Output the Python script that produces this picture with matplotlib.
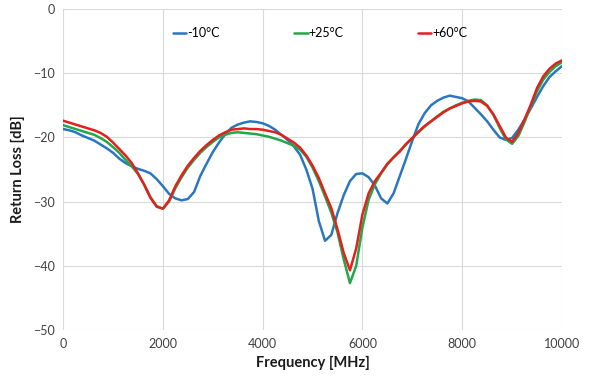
import matplotlib
matplotlib.use("Agg")
import matplotlib.pyplot as plt

freq = list(range(0, 10001, 125))

rl_m10 = [-18.7, -18.9, -19.2, -19.7, -20.1, -20.5, -21.1, -21.7, -22.4, -23.3,
          -24.0, -24.5, -24.9, -25.2, -25.6, -26.5, -27.6, -28.8, -29.5, -29.8,
          -29.6, -28.5, -26.0, -24.1, -22.3, -20.8, -19.5, -18.5, -18.0, -17.7,
          -17.5, -17.6, -17.8, -18.2, -18.8, -19.6, -20.4, -21.4, -22.7, -25.0,
          -28.0, -33.0, -36.1, -35.2, -31.8, -29.0, -26.8, -25.7, -25.6, -26.2,
          -27.5, -29.5, -30.3, -28.7, -26.0, -23.3, -20.5, -17.9, -16.2, -15.0,
          -14.3, -13.8, -13.5, -13.7, -13.9, -14.4, -15.4, -16.4, -17.5, -18.8,
          -20.0, -20.4, -20.1, -18.8, -17.2, -15.5, -13.7, -12.0, -10.6, -9.7,
          -8.9]

rl_p25 = [-18.1, -18.4, -18.7, -19.0, -19.3, -19.6, -20.1, -20.7, -21.5, -22.4,
          -23.5, -24.5, -25.7, -27.3, -29.3, -30.7, -31.1, -30.0, -27.9, -26.2,
          -24.7, -23.5, -22.4, -21.5, -20.7, -20.0, -19.6, -19.3, -19.2, -19.3,
          -19.4, -19.5, -19.7, -19.9, -20.2, -20.5, -20.9, -21.3, -21.9, -23.0,
          -24.7, -26.8, -29.2, -31.7, -34.8, -39.0, -42.7, -40.0, -34.0, -29.7,
          -27.3, -25.6, -24.2, -23.1, -22.1, -21.1, -20.1, -19.2, -18.3, -17.5,
          -16.7, -16.0, -15.5, -15.0, -14.6, -14.3, -14.1, -14.2, -15.0, -16.5,
          -18.5, -20.3, -21.0, -19.8, -17.6, -15.1, -12.8, -11.0, -9.8, -8.9,
          -8.3]

rl_p60 = [-17.4, -17.7, -18.0, -18.3, -18.6, -18.9, -19.3, -19.9, -20.8, -21.8,
          -22.8, -24.0, -25.6, -27.4, -29.4, -30.8, -31.1, -29.8, -27.6, -25.9,
          -24.4, -23.2, -22.1, -21.2, -20.4, -19.7, -19.2, -18.8, -18.7, -18.6,
          -18.7, -18.7, -18.8, -19.0, -19.2, -19.6, -20.2, -20.8, -21.6, -22.8,
          -24.4, -26.3, -28.7, -31.0, -34.3, -38.0, -40.7, -37.3, -32.0, -28.7,
          -26.8, -25.5, -24.1, -23.1, -22.2, -21.0, -20.1, -19.1, -18.2, -17.5,
          -16.8, -16.1, -15.5, -15.1, -14.7, -14.4, -14.3, -14.4, -15.1, -16.4,
          -18.2, -20.0, -20.7, -19.3, -17.2, -14.9, -12.3, -10.5, -9.3, -8.5,
          -8.0]

labels = ["-10°C", "+25°C", "+60°C"]
colors = ["#2a77c0", "#22a84a", "#e3201c"]

plt.rcParams['font.family'] = ['Lato', 'DejaVu Sans']

fig = plt.figure(figsize=(5.9, 3.84), dpi=100)
ax = fig.add_axes([0.107, 0.1406, 0.8455, 0.836])

for ys, lab, c in zip([rl_m10, rl_p25, rl_p60], labels, colors):
    ax.plot(freq, ys, color=c, lw=1.8, label=lab,
            solid_joinstyle='round', solid_capstyle='round')

ax.set_xlim(0, 10000)
ax.set_ylim(-50, 0)
ax.set_xticks(range(0, 10001, 2000))
ax.set_yticks(range(-50, 1, 10))
ax.grid(True, color="#d9d9d9", lw=0.8)
ax.set_axisbelow(True)
for s in ax.spines.values():
    s.set_visible(False)
ax.tick_params(length=0, labelsize=9, colors="#404040", pad=6)

ax.set_xlabel("Frequency [MHz]", fontsize=10.5, fontweight='bold', color="#1a1a1a", labelpad=4)
ax.set_ylabel("Return Loss [dB]", fontsize=10.5, fontweight='bold', color="#1a1a1a", labelpad=6)

leg = ax.legend(loc='center', bbox_to_anchor=(0.515, 0.925), ncol=3, frameon=False,
                fontsize=9, handlelength=1.1, handletextpad=0.1, columnspacing=5.9)

fig.savefig("out.png", dpi=100)
